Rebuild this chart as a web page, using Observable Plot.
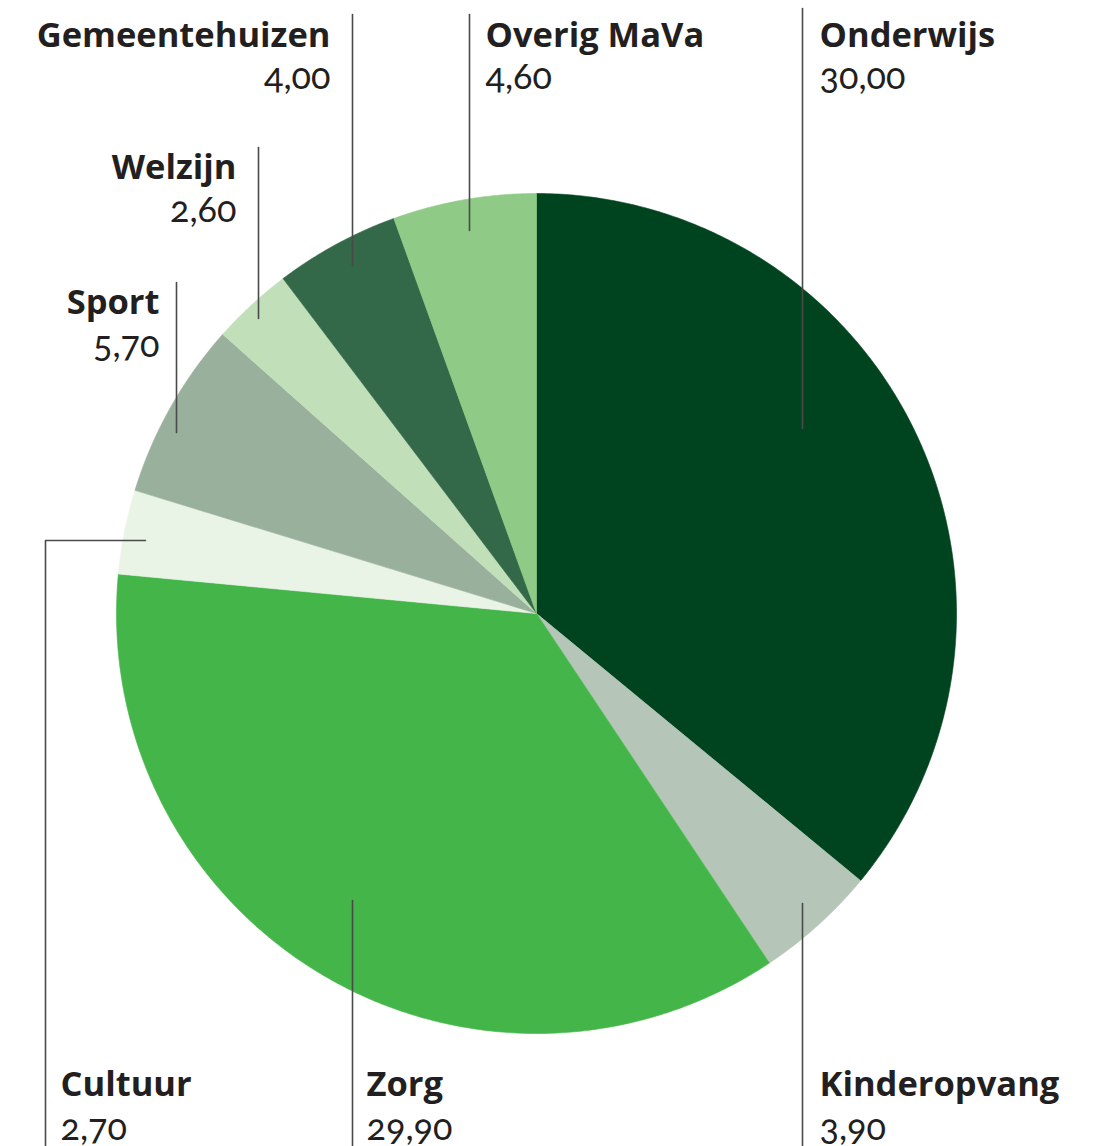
<!DOCTYPE html>
<html>
<head>
<meta charset="utf-8">
<script src="https://cdn.jsdelivr.net/npm/d3@7"></script>
<script src="https://cdn.jsdelivr.net/npm/@observablehq/plot@0.6"></script>
<style>
  html, body { margin: 0; padding: 0; background: #ffffff; }
  #chart svg { display: block; }
</style>
</head>
<body>
<div id="chart"></div>
<script>
// ---- data ----
const categories = ["Onderwijs", "Kinderopvang", "Zorg", "Cultuur", "Sport", "Welzijn", "Gemeentehuizen", "Overig MaVa"];
const values = [30.00, 3.90, 29.90, 2.70, 5.70, 2.60, 4.00, 4.60];
const valueLabels = ["30,00", "3,90", "29,90", "2,70", "5,70", "2,60", "4,00", "4,60"];
const colors = ["#00441f", "#b5c6b9", "#44b649", "#e9f4e7", "#99b09c", "#c1e0b9", "#336848", "#8fcb86"];

// ---- layout (pixels) ----
const W = 1101, H = 1146;
const CX = 536, CY = 613, R = 420;
const leaderPts = [
  [[802, 428], [802, 8]],
  [[802, 903], [802, 1146]],
  [[352, 900], [352, 1146]],
  [[145, 540], [45, 540], [45, 1146]],
  [[176, 432], [176, 282]],
  [[258, 318], [258, 147]],
  [[352, 265], [352, 14]],
  [[469, 230], [469, 14]]
];
const labelX = [819, 819, 366, 60, 159, 236, 330, 485];
const labelAnchor = ["start", "start", "start", "start", "end", "end", "end", "start"];
const nameBase = [46, 1095, 1095, 1095, 313, 178, 46, 46];
const valueBase = [88, 1139, 1139, 1139, 356, 221, 88, 88];

const ux = px => (px - CX) / R;
const uy = py => (CY - py) / R;

// ---- slices from d3.pie ----
const arcs = d3.pie().sort(null).startAngle(0).endAngle(2 * Math.PI)(values);
const slicePts = [];
arcs.forEach((a, i) => {
  const name = categories[i];
  slicePts.push({name, x: 0, y: 0});
  const n = Math.max(2, Math.ceil((a.endAngle - a.startAngle) / (Math.PI / 360)));
  for (let k = 0; k <= n; k++) {
    const t = a.startAngle + (a.endAngle - a.startAngle) * k / n;
    slicePts.push({name, x: Math.sin(t), y: Math.cos(t)});
  }
  slicePts.push({name, x: 0, y: 0});
});

const leaders = [];
leaderPts.forEach((pts, i) => pts.forEach(([px, py]) => leaders.push({name: categories[i], x: ux(px), y: uy(py)})));

const labels = categories.map((name, i) => ({
  name, value: valueLabels[i], x: ux(labelX[i]), yName: uy(nameBase[i]), yValue: uy(valueBase[i]), anchor: labelAnchor[i]
}));

const plot = Plot.plot({
  width: W,
  height: H,
  margin: 0,
  style: {background: "#ffffff", overflow: "visible"},
  x: {domain: [ux(0), ux(W)], range: [0, W], axis: null},
  y: {domain: [uy(H), uy(0)], range: [H, 0], axis: null},
  color: {domain: categories, range: colors},
  marks: [
    Plot.line(slicePts, {x: "x", y: "y", z: "name", fill: "name", stroke: "name", strokeWidth: 0.6, curve: "linear"}),
    Plot.line(leaders, {x: "x", y: "y", z: "name", stroke: "#4a4a4a", strokeWidth: 1.6, curve: "linear"}),
    ...["start", "end"].map(anch => Plot.text(labels.filter(d => d.anchor === anch), {
      x: "x", y: "yName", text: "name", textAnchor: anch, lineAnchor: "bottom",
      fontSize: 34.5, fontWeight: "bold", fontFamily: "Open Sans", fill: "#231f20"
    })),
    ...["start", "end"].map(anch => Plot.text(labels.filter(d => d.anchor === anch), {
      x: "x", y: "yValue", text: "value", textAnchor: anch, lineAnchor: "bottom",
      fontSize: 36, fontWeight: "normal", fontFamily: "Lato", fontVariant: "oldstyle-nums", fill: "#231f20"
    }))
  ]
});
document.getElementById("chart").appendChild(plot);
</script>
</body>
</html>
